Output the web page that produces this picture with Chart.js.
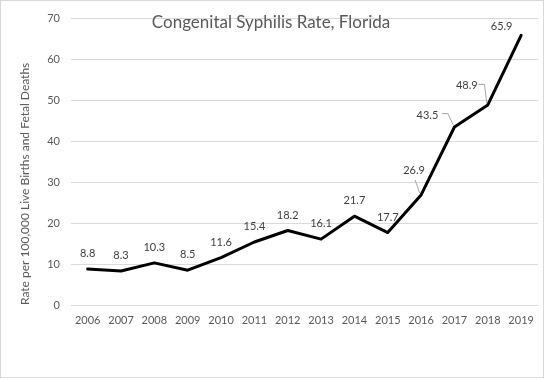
<!DOCTYPE html>
<html><head><meta charset="utf-8">
<script src="https://cdn.jsdelivr.net/npm/chart.js@4/dist/chart.umd.min.js"></script>
<style>
html,body{margin:0;padding:0;background:#fff;}
#wrap{position:relative;width:544px;height:378px;box-sizing:border-box;border:1px solid #d9d9d9;background:#fff;}
canvas{display:block;}
</style></head><body>
<div id="wrap"><canvas id="c" width="542" height="376"></canvas></div>
<script>
// ---- data ----
const years = ['2006','2007','2008','2009','2010','2011','2012','2013','2014','2015','2016','2017','2018','2019'];
const rates = [8.8, 8.3, 10.3, 8.5, 11.6, 15.4, 18.2, 16.1, 21.7, 17.7, 26.9, 43.5, 48.9, 65.9];
const yTickValues = [0, 10, 20, 30, 40, 50, 60, 70];
const chartTitle = 'Congenital Syphilis Rate, Florida';
const yAxisTitle = 'Rate per 100,000 Live Births and Fetal Deaths';

// ---- label placement (styling) ----
const defaultLabelOffset = {dx: 0, dy: -15.5};
const labelOffsets = {
  10: {dx: -7, dy: -24.5, leader: [[-6, -15], [-1.5, -2]]},
  11: {dx: -27, dy: -12, leader: [[-12.5, -13.4], [-6.5, -13.4], [-1, -1.5]]},
  12: {dx: -21, dy: -19.5, leader: [[-9.3, -20.5], [-3.3, -20.5], [-1, -1.5]]},
  13: {dx: -19.5, dy: -8.5}
};
const FONT = 'Lato, "Open Sans", sans-serif';

const dataLabelPlugin = {
  id: 'dataLabels',
  afterDatasetsDraw(chart) {
    const ctx = chart.ctx;
    const meta = chart.getDatasetMeta(0);
    ctx.save();
    meta.data.forEach((pt, i) => {
      const o = labelOffsets[i] || defaultLabelOffset;
      if (o.leader) {
        ctx.strokeStyle = '#a6a6a6';
        ctx.lineWidth = 1;
        ctx.beginPath();
        o.leader.forEach((p, k) => {
          const px = pt.x + p[0], py = pt.y + p[1];
          if (k === 0) ctx.moveTo(px, py); else ctx.lineTo(px, py);
        });
        ctx.stroke();
      }
      ctx.fillStyle = '#404040';
      ctx.font = '11px ' + FONT;
      ctx.textAlign = 'center';
      ctx.textBaseline = 'middle';
      ctx.fillText(String(rates[i].toFixed(1)), pt.x + o.dx, pt.y + o.dy);
    });
    ctx.restore();
  }
};

const titlePlugin = {
  id: 'innerTitle',
  afterDraw(chart) {
    const ctx = chart.ctx;
    ctx.save();
    ctx.fillStyle = '#595959';
    ctx.font = '17px ' + FONT;
    ctx.textAlign = 'center';
    ctx.textBaseline = 'alphabetic';
    ctx.fillText(chartTitle, 270, 27);
    ctx.restore();
  }
};

new Chart(document.getElementById('c'), {
  type: 'line',
  data: {
    labels: years,
    datasets: [{
      data: rates,
      borderColor: '#000000',
      borderWidth: 3,
      borderJoinStyle: 'round',
      borderCapStyle: 'round',
      pointRadius: 0,
      pointHoverRadius: 0,
      tension: 0,
      fill: false
    }]
  },
  options: {
    responsive: false,
    animation: false,
    events: [],
    layout: {padding: {top: 7, right: 3, left: 0, bottom: 0}},
    plugins: {legend: {display: false}, tooltip: {enabled: false}, title: {display: false}},
    scales: {
      x: {
        offset: true,
        grid: {display: false, drawTicks: false},
        border: {display: false},
        ticks: {color: '#595959', font: {family: FONT, size: 11}, padding: 9, maxRotation: 0, autoSkip: false},
        afterFit(s) { s.height = 72; }
      },
      y: {
        min: 0, max: 70,
        afterBuildTicks(s) { s.ticks = yTickValues.map(v => ({value: v})); },
        grid: {color: '#d9d9d9', lineWidth: 1, drawTicks: false},
        border: {display: false},
        ticks: {color: '#595959', font: {family: FONT, size: 11}, padding: 11},
        title: {display: true, text: yAxisTitle, align: 'start', color: '#595959', font: {family: FONT, size: 12}, padding: {top: 17, bottom: 0}},
        afterFit(s) { s.width = 70; }
      }
    }
  },
  plugins: [dataLabelPlugin, titlePlugin]
});
</script>
</body></html>
